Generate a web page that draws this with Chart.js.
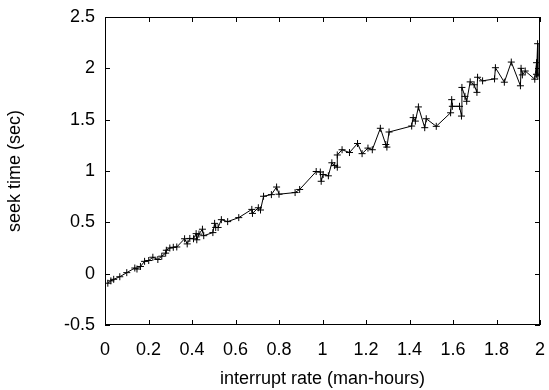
<!DOCTYPE html>
<html>
<head>
<meta charset="utf-8">
<script src="https://cdn.jsdelivr.net/npm/chart.js@4"></script>
<style>
  html, body { margin: 0; padding: 0; background: #fff; }
  #wrap { width: 549px; height: 390px; }
</style>
</head>
<body>
<div id="wrap"><canvas id="chart"></canvas></div>
<script>
// values
const rates = [0.013, 0.027, 0.04, 0.068, 0.10, 0.137, 0.147, 0.163, 0.182, 0.201,
  0.22, 0.243, 0.261, 0.279, 0.282, 0.298, 0.314, 0.33, 0.366, 0.378,
  0.39, 0.407, 0.419, 0.422, 0.432, 0.448, 0.454, 0.496, 0.504, 0.509,
  0.52, 0.535, 0.564, 0.615, 0.675, 0.678, 0.705, 0.715, 0.729, 0.765,
  0.789, 0.80, 0.874, 0.895, 0.971, 0.99, 0.994, 1.003, 1.027, 1.043,
  1.056, 1.068, 1.068, 1.09, 1.124, 1.161, 1.182, 1.209, 1.229, 1.266,
  1.291, 1.296, 1.306, 1.41, 1.417, 1.427, 1.441, 1.47, 1.477, 1.523,
  1.589, 1.594, 1.597, 1.63, 1.639, 1.641, 1.655, 1.663, 1.679, 1.697,
  1.71, 1.713, 1.736, 1.791, 1.795, 1.836, 1.868, 1.91, 1.913, 1.919,
  1.932, 1.976, 1.984, 1.984, 1.989, 1.99]
const seekTimes = [-0.093, -0.07, -0.055, -0.03, 0.01, 0.055, 0.045, 0.07, 0.12, 0.128,
  0.16, 0.138, 0.17, 0.2, 0.228, 0.25, 0.257, 0.26, 0.34, 0.29,
  0.343, 0.34, 0.39, 0.33, 0.385, 0.433, 0.37, 0.40, 0.49, 0.45,
  0.45, 0.526, 0.507, 0.546, 0.626, 0.587, 0.642, 0.62, 0.754, 0.77,
  0.844, 0.774, 0.79, 0.82, 0.995, 0.99, 0.90, 0.966, 0.953, 1.08,
  1.053, 1.037, 1.156, 1.207, 1.18, 1.268, 1.169, 1.223, 1.207, 1.416,
  1.258, 1.233, 1.38, 1.438, 1.52, 1.486, 1.624, 1.422, 1.509, 1.435,
  1.567, 1.695, 1.63, 1.63, 1.535, 1.814, 1.727, 1.679, 1.868, 1.84,
  1.766, 1.913, 1.878, 1.897, 2.006, 1.865, 2.061, 1.83, 2.0, 1.936,
  1.974, 1.894, 2.055, 1.942, 2.24, 1.926]

const xTicks = [0, 0.2, 0.4, 0.6, 0.8, 1, 1.2, 1.4, 1.6, 1.8, 2]
const yTicks = [-0.5, 0, 0.5, 1, 1.5, 2, 2.5]

const points = rates.map((r, i) => ({ x: r, y: seekTimes[i] }))

// gnuplot-like frame with ticks pointing inwards on all four sides
const frameTicks = {
  id: 'frameTicks',
  afterDraw(chart) {
    const { ctx, chartArea: a, scales } = chart
    const len = 5
    ctx.save()
    ctx.strokeStyle = '#000'
    ctx.lineWidth = 1
    ctx.strokeRect(a.left + 0.5, a.top + 0.5, a.right - a.left - 1, a.bottom - a.top - 1)
    ctx.beginPath()
    xTicks.forEach(v => {
      const px = Math.round(scales.x.getPixelForValue(v)) + 0.5
      ctx.moveTo(px, a.bottom); ctx.lineTo(px, a.bottom - len)
      ctx.moveTo(px, a.top); ctx.lineTo(px, a.top + len)
    })
    yTicks.forEach(v => {
      const py = Math.round(scales.y.getPixelForValue(v)) + 0.5
      ctx.moveTo(a.left, py); ctx.lineTo(a.left + len, py)
      ctx.moveTo(a.right, py); ctx.lineTo(a.right - len, py)
    })
    ctx.stroke()
    ctx.restore()
  }
}

const font = { family: 'Liberation Sans, Arial, sans-serif', size: 18 }

new Chart(document.getElementById('chart'), {
  type: 'scatter',
  data: {
    datasets: [{
      data: points,
      showLine: true,
      borderColor: '#000',
      borderWidth: 1,
      pointStyle: 'cross',
      pointRadius: 3.5,
      pointBorderColor: '#000',
      pointBorderWidth: 1,
      pointBackgroundColor: '#000'
    }]
  },
  options: {
    responsive: true,
    maintainAspectRatio: false,
    animation: false,
    layout: { padding: { top: 17, right: 9, left: 0, bottom: 0 } },
    plugins: { legend: { display: false }, tooltip: { enabled: false } },
    scales: {
      x: {
        type: 'linear',
        min: 0, max: 2,
        afterBuildTicks: s => { s.ticks = xTicks.map(v => ({ value: v })) },
        afterFit: s => { s.height = 65; s.paddingLeft = 0; s.paddingRight = 0 },
        grid: { display: false, drawTicks: false },
        border: { display: false },
        ticks: {
          color: '#000', font, padding: 14, maxRotation: 0,
          callback: v => String(+v.toFixed(1))
        },
        title: { display: true, text: 'interrupt rate (man-hours)', color: '#000', font, padding: { top: 0, bottom: 0 } }
      },
      y: {
        type: 'linear',
        min: -0.5, max: 2.5,
        afterBuildTicks: s => { s.ticks = yTicks.map(v => ({ value: v })) },
        afterFit: s => { s.width = 105; s.paddingTop = 0; s.paddingBottom = 0 },
        grid: { display: false, drawTicks: false },
        border: { display: false },
        ticks: {
          color: '#000', font, padding: 10,
          callback: v => String(+v.toFixed(1))
        },
        title: { display: true, text: 'seek time (sec)', color: '#000', font, padding: { top: 4, bottom: 0 } }
      }
    }
  },
  plugins: [frameTicks]
})
</script>
</body>
</html>
